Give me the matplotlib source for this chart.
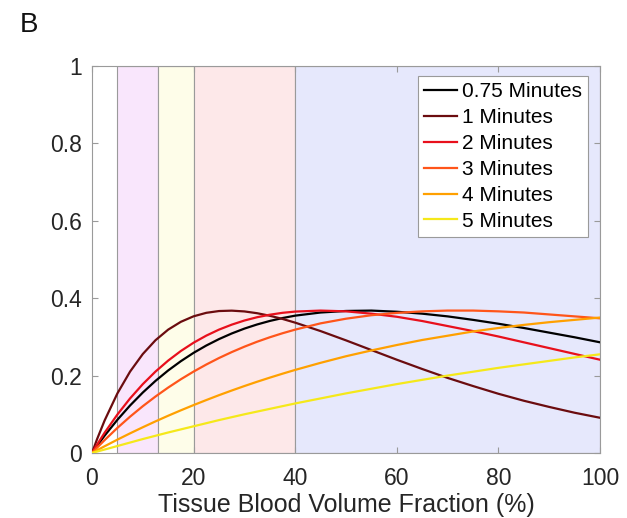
import matplotlib
matplotlib.use("Agg")
import matplotlib.pyplot as plt

plt.rcParams['font.family'] = ['Liberation Sans', 'DejaVu Sans']

x = [0, 1, 2.5, 5, 7.5, 10, 12.5, 15, 17.5, 20, 22.5, 25, 27.5, 30, 32.5, 35, 37.5, 40,
     45, 50, 55, 60, 65, 70, 75, 80, 85, 90, 95, 100]

y_075 = [0, 0.0185, 0.045, 0.0858, 0.1228, 0.1562, 0.1863, 0.2133, 0.2373, 0.2588, 0.2777, 0.2943,
         0.3088, 0.3214, 0.3321, 0.3412, 0.3487, 0.3549,
         0.363, 0.367, 0.368, 0.365, 0.360, 0.353, 0.344, 0.334, 0.323, 0.311, 0.299, 0.286]
y_1 = [0, 0.0357, 0.0844, 0.1539, 0.2104, 0.2557, 0.2914, 0.3188, 0.339, 0.3532, 0.3622, 0.3668,
       0.3678, 0.3658, 0.3612, 0.3546, 0.3464, 0.3368,
       0.315, 0.291, 0.266, 0.241, 0.217, 0.194, 0.173, 0.153, 0.135, 0.119, 0.104, 0.091]
y_2 = [0, 0.0217, 0.0526, 0.0994, 0.1411, 0.1779, 0.2104, 0.2388, 0.2636, 0.285, 0.3033, 0.3188,
       0.3316, 0.3423, 0.3508, 0.3573, 0.3622, 0.3654,
       0.368, 0.366, 0.360, 0.352, 0.341, 0.328, 0.315, 0.301, 0.286, 0.271, 0.256, 0.241]
y_3 = [0, 0.0137, 0.0335, 0.0648, 0.0939, 0.1209, 0.1459, 0.1691, 0.1906, 0.2104, 0.2286, 0.2454,
       0.2607, 0.2747, 0.2875, 0.299, 0.3094, 0.3188,
       0.335, 0.347, 0.356, 0.362, 0.366, 0.368, 0.368, 0.366, 0.363, 0.358, 0.353, 0.348]
y_4 = [0, 0.0071, 0.0175, 0.0345, 0.0508, 0.0665, 0.0817, 0.0963, 0.1103, 0.1238, 0.1368, 0.1494,
       0.1614, 0.173, 0.1841, 0.1947, 0.2049, 0.2147,
       0.233, 0.250, 0.265, 0.279, 0.292, 0.303, 0.314, 0.323, 0.331, 0.338, 0.344, 0.350]
y_5 = [0, 0.0037, 0.009, 0.018, 0.027, 0.036, 0.0445, 0.053, 0.061, 0.069, 0.077, 0.085,
       0.0925, 0.100, 0.107, 0.114, 0.121, 0.128,
       0.141, 0.154, 0.166, 0.178, 0.189, 0.200, 0.210, 0.220, 0.229, 0.238, 0.247, 0.255]

series = [y_075, y_1, y_2, y_3, y_4, y_5]
labels = ['0.75 Minutes', '1 Minutes', '2 Minutes', '3 Minutes', '4 Minutes', '5 Minutes']
colors = ['#000000', '#6b0c0f', '#e8101c', '#ff551a', '#ffa000', '#f5e81a']

span_edges = [5, 13, 20, 40, 100]
span_colors = ['#f9e6fc', '#fefde9', '#fde8e9', '#e6e8fc']

fig = plt.figure(figsize=(6.27, 5.18), dpi=100)
ax = fig.add_axes([0.1467, 0.1255, 0.957 - 0.1467, 0.8726 - 0.1255])

for i in range(len(span_colors)):
    ax.axvspan(span_edges[i], span_edges[i + 1], facecolor=span_colors[i],
               edgecolor='#9a9a9a', linewidth=0.8, zorder=0)

for ys, lab, c in zip(series, labels, colors):
    ax.plot(x, ys, color=c, linewidth=1.6, label=lab, zorder=3)

ax.set_xlim(0, 100)
ax.set_ylim(0, 1)
ax.set_xticks([0, 20, 40, 60, 80, 100])
ax.set_yticks([0, 0.2, 0.4, 0.6, 0.8, 1])
ax.set_yticklabels(['0', '0.2', '0.4', '0.6', '0.8', '1'])
ax.tick_params(direction='in', top=True, right=True, labelsize=16.5, colors='#9a9a9a',
               labelcolor='#262626', length=4, width=0.8, pad=7)
ax.tick_params(axis='x', pad=10)
for s in ax.spines.values():
    s.set_color('#9a9a9a')
    s.set_linewidth(0.8)
ax.set_xlabel('Tissue Blood Volume Fraction (%)', fontsize=18, color='#262626', labelpad=2.5)

leg = ax.legend(loc='upper right', bbox_to_anchor=(0.976, 0.974), fontsize=15, frameon=True,
                fancybox=False, edgecolor='#9a9a9a', framealpha=1, handlelength=1.6,
                handletextpad=0.2, labelspacing=0.33, borderpad=0.3, borderaxespad=0)
leg.get_frame().set_linewidth(0.8)

fig.text(0.032, 0.952, 'B', fontsize=20, ha='left', va='center', color='#111111')

fig.savefig('out.png', dpi=100)
